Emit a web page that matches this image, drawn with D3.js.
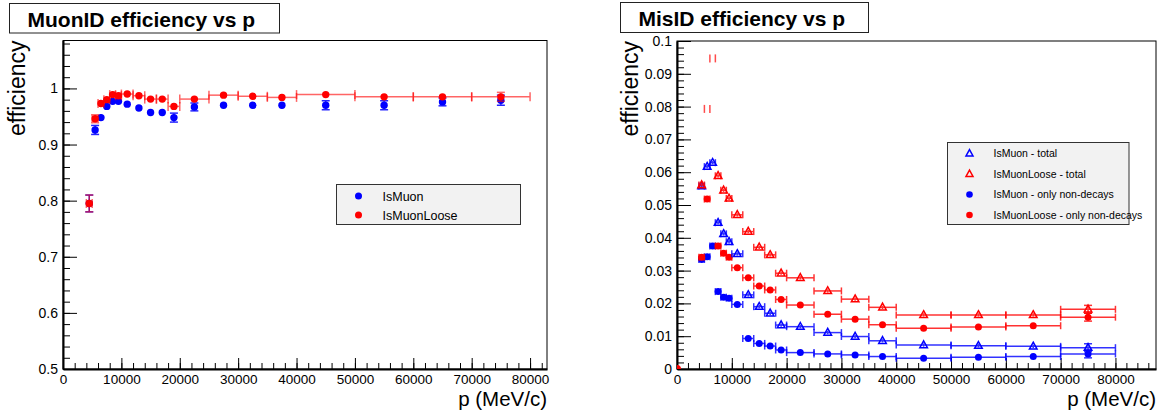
<!DOCTYPE html>
<html>
<head>
<meta charset="utf-8">
<script src="https://cdn.jsdelivr.net/npm/d3@7"></script>
<style>
body { margin: 0; background: #fff; }
text { font-family: "Liberation Sans", Arial, Helvetica, sans-serif; }
</style>
</head>
<body>
<svg id="chart" width="1160" height="411"></svg>
<script>
// bin edges in p (MeV/c), shared by every series
var binEdges = [4000, 5000, 6000, 7000, 8000, 9000, 10000, 12000, 14000, 16000, 18000,
                20000, 25000, 30000, 35000, 40000, 50000, 60000, 70000, 80000];

// MuonID efficiency (left)
var isMuonEff      = [0.795, 0.926, 0.948, 0.968, 0.977, 0.977, 0.972, 0.965, 0.957, 0.957,
                      0.948, 0.967, 0.970, 0.970, 0.970, 0.970, 0.970, 0.976, 0.979];
var isMuonEffErr   = [0.015, 0.008, 0.006, 0.004, 0.004, 0.004, 0.005, 0.004, 0.005, 0.005,
                      0.008, 0.007, 0.003, 0.003, 0.006, 0.008, 0.008, 0.007, 0.009];
var looseEff       = [0.795, 0.946, 0.973, 0.980, 0.989, 0.987, 0.990, 0.987, 0.981, 0.981,
                      0.968, 0.981, 0.988, 0.986, 0.984, 0.989, 0.985, 0.985, 0.985];
var looseEffErr    = [0.015, 0.007, 0.004, 0.003, 0.003, 0.003, 0.003, 0.003, 0.003, 0.003,
                      0.006, 0.003, 0.002, 0.002, 0.002, 0.002, 0.002, 0.003, 0.008];

// MisID efficiency (right)
var isMuonTotal    = [0.0558, 0.0617, 0.0629, 0.0446, 0.0412, 0.0388, 0.0351, 0.0226, 0.0190, 0.0170,
                      0.0134, 0.0129, 0.0111, 0.0099, 0.0086, 0.0073, 0.0071, 0.0069, 0.0065];
var looseTotal     = [0.0561, null, null, 0.0589, 0.0545, 0.0520, 0.0470, 0.0419, 0.0371, 0.0348,
                      0.0292, 0.0278, 0.0238, 0.0213, 0.0188, 0.0165, 0.0165, 0.0165, 0.0182];
var isMuonNonDecay = [0.0334, 0.0342, 0.0375, 0.0236, 0.0219, 0.0216, 0.0197, 0.0093, 0.0078, 0.0070,
                      0.0058, 0.0050, 0.0046, 0.0043, 0.0038, 0.0033, 0.0036, 0.0038, 0.0046];
var looseNonDecay  = [0.0341, 0.0518, null, 0.0375, 0.0353, 0.0341, 0.0309, 0.0278, 0.0253, 0.0241,
                      0.0212, 0.0195, 0.0167, 0.0152, 0.0135, 0.0124, 0.0128, 0.0132, 0.0158];
var misIdErr       = [0.0005, 0.0005, 0.0005, 0.0005, 0.0005, 0.0005, 0.0005, 0.0005, 0.0005, 0.0005,
                      0.0005, 0.0005, 0.0005, 0.0005, 0.0005, 0.0005, 0.0005, 0.0005, 0.0012];
// loose-total bins that only show their x-error end ticks
var looseStubP = [5500, 6500];
var looseStubV = [0.0793, 0.0947];
// point sitting on the origin
var zeroP = [0];
var zeroV = [0];

// tick labels
var xTicks = [0, 10000, 20000, 30000, 40000, 50000, 60000, 70000, 80000];
var effTicks = [0.5, 0.6, 0.7, 0.8, 0.9, 1];
var misTicks = [0, 0.01, 0.02, 0.03, 0.04, 0.05, 0.06, 0.07, 0.08, 0.09, 0.1];

var BLUE = "#0000ff", RED = "#ff0000";
var svg = d3.select("#chart");

var binCenter = binEdges.slice(0, -1).map((e, i) => (e + binEdges[i + 1]) / 2);
var binLo = binEdges.slice(0, -1);
var binHi = binEdges.slice(1);

function makePanel(p) {
    var x = d3.scaleLinear().domain(p.xDomain).range([p.left, p.right]);
    var y = d3.scaleLinear().domain(p.yDomain).range([p.bottom, p.top]);

    // title box
    svg.append("rect").attr("x", p.titleBox[0]).attr("y", p.titleBox[1])
       .attr("width", p.titleBox[2]).attr("height", p.titleBox[3])
       .attr("fill", "#fff").attr("stroke", "#222").attr("stroke-width", 1);
    svg.append("text").attr("x", p.titleBox[0] + 18).attr("y", p.titleBox[1] + 23)
       .attr("font-size", 21).attr("font-weight", "bold").text(p.title);

    svg.append("rect").attr("x", p.left).attr("y", p.top)
       .attr("width", p.right - p.left).attr("height", p.bottom - p.top)
       .attr("fill", "none").attr("stroke", "#000").attr("stroke-width", 1);

    // minor ticks
    svg.append("g").attr("transform", `translate(${p.left},0)`)
       .call(d3.axisLeft(y).tickValues(p.yMinor).tickSize(-7).tickSizeOuter(0).tickFormat(""))
       .call(g => g.select(".domain").remove());
    svg.append("g").attr("transform", `translate(0,${p.bottom})`)
       .call(d3.axisBottom(x).tickValues(p.xMinor).tickSize(-6).tickSizeOuter(0).tickFormat(""))
       .call(g => g.select(".domain").remove());

    // major ticks + labels
    var ya = svg.append("g").attr("transform", `translate(${p.left},0)`)
       .call(d3.axisLeft(y).tickValues(p.yTicks).tickSize(-14).tickSizeOuter(0).tickPadding(5)
             .tickFormat(d => String(d)));
    ya.select(".domain").attr("stroke-width", 2);
    ya.selectAll("text").attr("font-size", 14).attr("fill", "#000");

    var xa = svg.append("g").attr("transform", `translate(0,${p.bottom})`)
       .call(d3.axisBottom(x).tickValues(xTicks).tickSize(-11).tickSizeOuter(0).tickPadding(5)
             .tickFormat(d => String(d)));
    xa.select(".domain").attr("stroke-width", 2);
    xa.selectAll("text").attr("font-size", 13.5).attr("fill", "#000");

    svg.append("text").attr("transform", `translate(${p.yTitleX},${p.top}) rotate(-90)`)
       .attr("text-anchor", "end").attr("font-size", 23).text("efficiency");
    svg.append("text").attr("x", p.right).attr("y", 405.5)
       .attr("text-anchor", "end").attr("font-size", 20.5).text("p (MeV/c)");

    var clipId = "clip" + p.left;
    svg.append("clipPath").attr("id", clipId).append("rect")
       .attr("x", p.left).attr("y", p.top)
       .attr("width", p.right - p.left).attr("height", p.bottom - p.top);
    var plot = svg.append("g").attr("clip-path", `url(#${clipId})`);
    return {x: x, y: y, plot: plot};
}

function marker(g, kind, cx, cy, color, size) {
    if (kind === "circle") {
        g.append("circle").attr("cx", cx).attr("cy", cy).attr("r", size)
         .attr("fill", color);
    } else {
        var s = size;
        g.append("path")
         .attr("d", `M${cx},${cy - s * 1.1}L${cx + s},${cy + s * 0.7}L${cx - s},${cy + s * 0.7}Z`)
         .attr("fill", "none").attr("stroke", color).attr("stroke-width", 1.5);
    }
}

function drawSeries(pn, vals, errs, o) {
    var g = pn.plot.append("g");
    var x = pn.x, y = pn.y;
    vals.forEach(function(v, i) {
        if (v === null) return;
        var cx = x(binCenter[i]), cy = y(v);
        var eb = g.append("g").attr("stroke", o.color).attr("stroke-width", 1.5)
                  .attr("opacity", o.errOpacity);
        if (o.xerr) {
            eb.append("line").attr("x1", x(binLo[i])).attr("x2", x(binHi[i]))
              .attr("y1", cy).attr("y2", cy);
            [binLo[i], binHi[i]].forEach(function(b) {
                eb.append("line").attr("x1", x(b)).attr("x2", x(b))
                  .attr("y1", cy - o.cap).attr("y2", cy + o.cap);
            });
        }
        var e = errs[i];
        var y1 = y(v + e), y2 = y(v - e);
        eb.append("line").attr("x1", cx).attr("x2", cx).attr("y1", y1).attr("y2", y2);
        if (y2 - y1 > 2 * o.size) {
            [y1, y2].forEach(function(yy) {
                eb.append("line").attr("x1", cx - 4).attr("x2", cx + 4)
                  .attr("y1", yy).attr("y2", yy);
            });
        }
        marker(g, o.marker, cx, cy, o.color, o.size);
    });
}

function legend(box, rows, fontSize) {
    svg.append("rect").attr("x", box[0]).attr("y", box[1]).attr("width", box[2]).attr("height", box[3])
       .attr("fill", "#f2f2f2").attr("stroke", "#333").attr("stroke-width", 1);
    rows.forEach(function(r, i) {
        var ry = box[1] + box[4] + i * box[5];
        marker(svg, r.marker, box[0] + 22, ry, r.color, r.size);
        svg.append("text").attr("x", box[0] + 46).attr("y", ry + fontSize * 0.36)
           .attr("font-size", fontSize).attr("fill", "#000").text(r.label);
    });
}

// ---- left: MuonID efficiency vs p
var left = makePanel({
    left: 63, right: 547, top: 40.5, bottom: 369,
    xDomain: [0, 82900], yDomain: [0.5, 1.0854],
    xMinor: d3.range(0, 82001, 2000), yMinor: d3.range(0, 30).map(i => 0.5 + i * 0.02),
    yTicks: effTicks, yTitleX: 25,
    title: "MuonID efficiency vs p", titleBox: [9.5, 3.5, 270, 29.5]
});
drawSeries(left, isMuonEff, isMuonEffErr, {color: BLUE, marker: "circle", size: 3.7, xerr: false, cap: 4, errOpacity: 0.85});
drawSeries(left, looseEff, looseEffErr, {color: RED, marker: "circle", size: 3.7, xerr: true, cap: 4.5, errOpacity: 0.6});
legend([336.5, 184.5, 184, 40, 11.5, 19], [
    {label: "IsMuon", color: BLUE, marker: "circle", size: 3.5},
    {label: "IsMuonLoose", color: RED, marker: "circle", size: 3.5}
], 12.5);

// ---- right: MisID efficiency vs p
var right = makePanel({
    left: 677, right: 1156, top: 41, bottom: 369,
    xDomain: [0, 87400], yDomain: [0, 0.1],
    xMinor: d3.range(0, 86001, 2000), yMinor: d3.range(0, 51).map(i => i * 0.002),
    yTicks: misTicks, yTitleX: 638,
    title: "MisID efficiency vs p", titleBox: [620.5, 2.5, 248, 30]
});
drawSeries(right, isMuonNonDecay, misIdErr, {color: BLUE, marker: "circle", size: 3.5, xerr: true, cap: 3.5, errOpacity: 0.8});
drawSeries(right, looseNonDecay, misIdErr, {color: RED, marker: "circle", size: 3.5, xerr: true, cap: 3.5, errOpacity: 0.8});
drawSeries(right, isMuonTotal, misIdErr, {color: BLUE, marker: "triangle", size: 3.8, xerr: true, cap: 3.5, errOpacity: 0.8});
drawSeries(right, looseTotal, misIdErr, {color: RED, marker: "triangle", size: 3.8, xerr: true, cap: 3.5, errOpacity: 0.8});

// bins where only the x-error end ticks of the loose total show
looseStubP.forEach(function(p, i) {
    var cy = right.y(looseStubV[i]);
    [p - 500, p + 500].forEach(function(b) {
        right.plot.append("line").attr("x1", right.x(b)).attr("x2", right.x(b))
             .attr("y1", cy - 4).attr("y2", cy + 4)
             .attr("stroke", RED).attr("stroke-width", 1.5).attr("opacity", 0.7);
    });
});
zeroP.forEach(function(p, i) {
    marker(right.plot, "circle", right.x(p), right.y(zeroV[i]), RED, 4);
});

legend([947.5, 142.5, 181.5, 82, 11, 20.5], [
    {label: "IsMuon - total", color: BLUE, marker: "triangle", size: 3.5},
    {label: "IsMuonLoose - total", color: RED, marker: "triangle", size: 3.5},
    {label: "IsMuon - only non-decays", color: BLUE, marker: "circle", size: 3.3},
    {label: "IsMuonLoose - only non-decays", color: RED, marker: "circle", size: 3.3}
], 10.5);
</script>
</body>
</html>
